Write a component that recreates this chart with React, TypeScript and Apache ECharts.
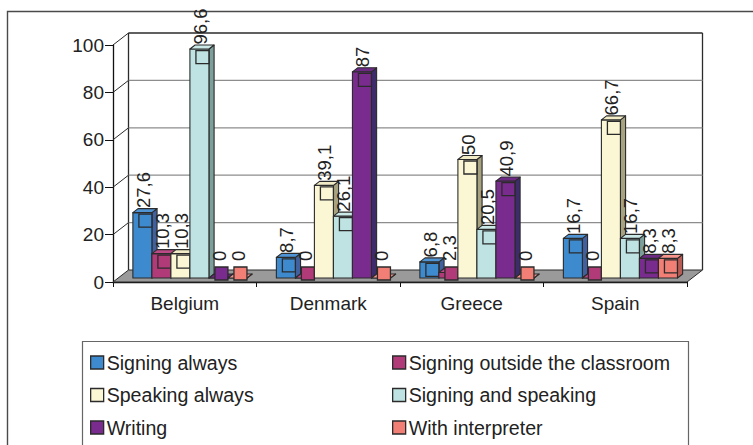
import { useEffect, useRef } from 'react';
import * as echarts from 'echarts';

// Categories and values per teaching mode (percent)
const categories = ['Belgium', 'Denmark', 'Greece', 'Spain'];
const seriesNames = [
  'Signing always',
  'Signing outside the classroom',
  'Speaking always',
  'Signing and speaking',
  'Writing',
  'With interpreter',
];
const signingAlways = [27.6, 8.7, 6.8, 16.7];
const signingOutside = [10.3, 0, 2.3, 0];
const speakingAlways = [10.3, 39.1, 50, 66.7];
const signingAndSpeaking = [96.6, 26.1, 20.5, 16.7];
const writing = [0, 87, 40.9, 8.3];
const withInterpreter = [0, 0, 0, 8.3];
const yTicks = [0, 20, 40, 60, 80, 100];

const seriesValues = [
  signingAlways,
  signingOutside,
  speakingAlways,
  signingAndSpeaking,
  writing,
  withInterpreter,
];

// front / side / top shading of each box
const palette = [
  { front: '#3e8acf', side: '#41609f', top: '#4f95d6' },
  { front: '#b13b79', side: '#7c2856', top: '#bb4a86' },
  { front: '#fbf6d4', side: '#a7a27f', top: '#f2ecc6' },
  { front: '#bee3e2', side: '#7c9f9c', top: '#cbe9e7' },
  { front: '#7a2b8e', side: '#3e2b6c', top: '#6c2a85' },
  { front: '#f27f76', side: '#b95c56', top: '#f7958d' },
];

const FONT = '"Liberation Sans", Arial, Helvetica, sans-serif';
const EDGE = '#2b2b2b';

// depth of the 3D box (screen offset from front plane to back wall)
const DX = 15.5;
const DY = -12;
// bars occupy the middle third of the depth
const BX = DX / 3;
const BY = DY / 3;
const BAR_FRACTION = 0.1325;

const fmt = (v: number) => String(v).replace('.', ',');

export default function App() {
  const ref = useRef<HTMLDivElement>(null);

  useEffect(() => {
    if (!ref.current) return;
    const chart = echarts.init(ref.current, undefined, { renderer: 'svg' });

    const frameSeries = {
      type: 'custom',
      name: '__frame',
      xAxisIndex: 0,
      yAxisIndex: 0,
      z: 1,
      silent: true,
      data: yTicks.map((v) => [0, v]),
      encode: { x: 0, y: 1 },
      renderItem: (params: any, api: any) => {
        const cs = params.coordSys;
        const left = cs.x;
        const right = cs.x + cs.width;
        const top = cs.y;
        const bottom = cs.y + cs.height;
        const v = api.value(1);
        const y = api.coord([0, v])[1];
        const children: any[] = [];
        if (v === yTicks[0]) {
          children.push({
            type: 'polygon',
            shape: {
              points: [
                [left, bottom],
                [right, bottom],
                [right + DX, bottom + DY],
                [left + DX, bottom + DY],
              ],
            },
            style: { fill: '#9a9a9a', stroke: EDGE, lineWidth: 1 },
          });
          children.push({
            type: 'line',
            shape: { x1: left + DX, y1: bottom + DY, x2: left + DX, y2: top + DY },
            style: { stroke: EDGE, lineWidth: 1.3 },
          });
          children.push({
            type: 'line',
            shape: { x1: right + DX, y1: bottom + DY, x2: right + DX, y2: top + DY },
            style: { stroke: EDGE, lineWidth: 1.3 },
          });
        } else {
          const isTop = v === yTicks[yTicks.length - 1];
          children.push({
            type: 'line',
            shape: { x1: left + DX, y1: y + DY, x2: right + DX, y2: y + DY },
            style: { stroke: isTop ? EDGE : '#8d8d8d', lineWidth: isTop ? 1.3 : 1.2 },
          });
          children.push({
            type: 'line',
            shape: { x1: left, y1: y, x2: left + DX, y2: y + DY },
            style: { stroke: EDGE, lineWidth: 1 },
          });
        }
        return { type: 'group', children };
      },
    };

    const barSeries = seriesValues.map((vals, s) => ({
      type: 'custom',
      name: seriesNames[s],
      xAxisIndex: 0,
      yAxisIndex: 0,
      z: 2,
      itemStyle: { color: palette[s].front, borderColor: EDGE, borderWidth: 1 },
      data: vals.map((v, i) => [i, v]),
      encode: { x: 0, y: 1 },
      renderItem: (_params: any, api: any) => {
        const c = api.value(0);
        const v = api.value(1);
        const base = api.coord([c, 0]);
        const tip = api.coord([c, v]);
        const band = api.size([1, 0])[0];
        const bw = band * BAR_FRACTION;
        const x0 = base[0] - 3 * bw + s * bw + BX;
        const yb = base[1] + BY;
        const yt = tip[1] + BY;
        const col = palette[s];
        const line = { stroke: EDGE, lineWidth: 1.1, lineJoin: 'round' };
        const keySize = 13;
        const keyTop = Math.min(yt + 1.5, yb - 11);
        const keyCx = x0 + bw / 2 + 3;
        return {
          type: 'group',
          children: [
            {
              type: 'polygon',
              shape: {
                points: [
                  [x0 + bw, yb],
                  [x0 + bw, yt],
                  [x0 + bw + BX, yt + BY],
                  [x0 + bw + BX, yb + BY],
                ],
              },
              style: { fill: col.side, ...line },
            },
            {
              type: 'rect',
              shape: { x: x0, y: yt, width: bw, height: yb - yt },
              style: { fill: col.front, ...line },
            },
            {
              type: 'polygon',
              shape: {
                points: [
                  [x0, yt],
                  [x0 + bw, yt],
                  [x0 + bw + BX, yt + BY],
                  [x0 + BX, yt + BY],
                ],
              },
              style: { fill: col.top, ...line },
            },
            {
              type: 'rect',
              shape: { x: keyCx - keySize / 2, y: keyTop, width: keySize, height: keySize },
              style: { fill: col.front, stroke: EDGE, lineWidth: 1.3 },
            },
            {
              type: 'text',
              x: x0 + bw / 2 + 1,
              y: keyTop - 6,
              rotation: Math.PI / 2,
              style: {
                text: fmt(v),
                x: 0,
                y: 0,
                align: 'left',
                verticalAlign: 'middle',
                fontFamily: FONT,
                fontSize: 18.5,
                fill: '#222',
              },
            },
          ],
        };
      },
    }));

    const legendBase = {
      orient: 'vertical',
      top: 352.5,
      padding: 0,
      itemWidth: 13,
      itemHeight: 13,
      itemGap: 12.5,
      icon: 'rect',
      selectedMode: false,
      itemStyle: { borderColor: EDGE, borderWidth: 1.3 },
      textStyle: { fontFamily: FONT, fontSize: 19.6, lineHeight: 19, color: '#222', padding: [0, 0, 0, -2] },
    };

    chart.setOption({
      animation: false,
      backgroundColor: '#fff',
      graphic: [
        {
          type: 'rect',
          silent: true,
          z: -10,
          shape: { x: 7.5, y: 11.5, width: 900, height: 600 },
          style: { fill: 'none', stroke: '#4a4a4a', lineWidth: 1.4 },
        },
        {
          type: 'rect',
          silent: true,
          z: -10,
          shape: { x: 82.5, y: 341.5, width: 606, height: 200 },
          style: { fill: '#fff', stroke: '#666', lineWidth: 1.2 },
        },
      ],
      legend: [
        { ...legendBase, left: 90, data: [seriesNames[0], seriesNames[2], seriesNames[4]] },
        { ...legendBase, left: 392, data: [seriesNames[1], seriesNames[3], seriesNames[5]] },
      ],
      grid: [{ left: 113, top: 45, width: 574, height: 237, containLabel: false }],
      xAxis: [
        {
          type: 'category',
          data: categories,
          axisLine: { show: true, lineStyle: { color: '#111', width: 1.3 } },
          axisTick: { show: true, length: 5, lineStyle: { color: '#111' } },
          axisLabel: { fontFamily: FONT, fontSize: 19, color: '#222', margin: 12 },
          splitLine: { show: false },
        },
      ],
      yAxis: [
        {
          type: 'value',
          min: 0,
          max: 100,
          interval: 20,
          axisLine: { show: true, lineStyle: { color: '#111', width: 1.3 } },
          axisTick: { show: true, length: 8, lineStyle: { color: '#111' } },
          axisLabel: { fontFamily: FONT, fontSize: 19, color: '#222', margin: 9 },
          splitLine: { show: false },
        },
      ],
      series: [frameSeries, ...barSeries],
    });

    return () => chart.dispose();
  }, []);

  return (
    <div
      ref={ref}
      style={{ position: 'fixed', left: 0, top: 0, width: 753, height: 445, background: '#fff' }}
    />
  );
}
